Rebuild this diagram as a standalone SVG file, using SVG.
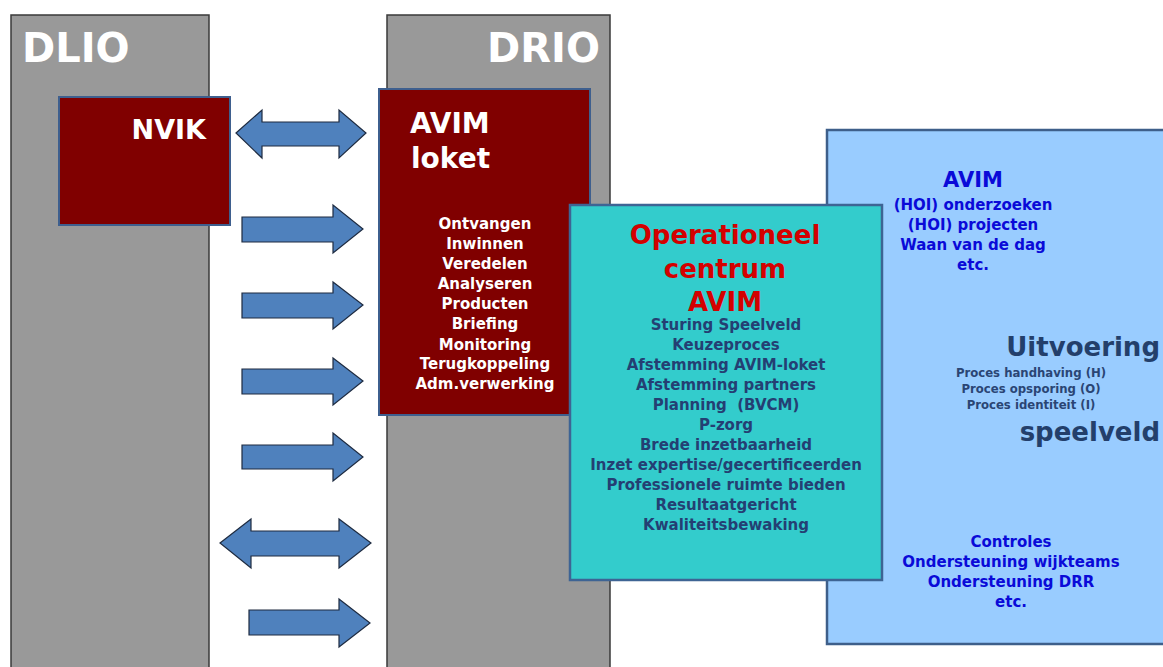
<svg xmlns="http://www.w3.org/2000/svg" width="1163" height="667" viewBox="0 0 1163 667">
<style>
text{font-family:"DejaVu Sans","Liberation Sans",sans-serif;font-weight:bold}
.panel{fill:#999999;stroke:#3a3a3a;stroke-width:1.5}
.red{fill:#800000;stroke:#3e5f8e;stroke-width:2}
.arrow{fill:#4f81bd;stroke:#1e2b40;stroke-width:1.2;stroke-linejoin:miter}
.w{fill:#ffffff}
.list{fill:#ffffff;font-size:15px;text-anchor:middle}
.op{fill:#243f73;font-size:15px;text-anchor:middle}
.bl{fill:#0a0ad8;font-size:15px;text-anchor:middle}
.proc{fill:#2a4574;font-size:11.7px;text-anchor:middle}
.big{fill:#233f6b;font-size:26px;text-anchor:end}
</style>
<rect width="1163" height="667" fill="#ffffff"/>
<g id="dlio">
<rect class="panel" x="11" y="15" width="198" height="670"/>
<text class="w" x="22" y="62" font-size="40">DLIO</text>
</g>
<g id="drio">
<rect class="panel" x="387" y="15" width="223" height="670"/>
<text class="w" x="600" y="62" font-size="40" text-anchor="end">DRIO</text>
</g>
<g id="nvik">
<rect class="red" x="59" y="97" width="171" height="128"/>
<text class="w" x="206" y="139" font-size="27" text-anchor="end">NVIK</text>
</g>
<g id="avim-loket">
<rect class="red" x="379" y="89" width="211" height="326"/>
<text class="w" x="410" y="133" font-size="28">AVIM</text>
<text class="w" x="411" y="168" font-size="28">loket</text>
<text class="list" x="485" y="229">Ontvangen</text>
<text class="list" x="485" y="249">Inwinnen</text>
<text class="list" x="485" y="269">Veredelen</text>
<text class="list" x="485" y="289">Analyseren</text>
<text class="list" x="485" y="309">Producten</text>
<text class="list" x="485" y="329">Briefing</text>
<text class="list" x="485" y="350">Monitoring</text>
<text class="list" x="485" y="369">Terugkoppeling</text>
<text class="list" x="485" y="389">Adm.verwerking</text>
</g>
<g id="uitvoering">
<rect x="827" y="130" width="345" height="514" fill="#99ccff" stroke="#3e5f8a" stroke-width="2.5"/>
<text x="973" y="187" fill="#0a0ad8" font-size="21" text-anchor="middle">AVIM</text>
<text class="bl" x="973" y="210">(HOI) onderzoeken</text>
<text class="bl" x="973" y="230">(HOI) projecten</text>
<text class="bl" x="973" y="250">Waan van de dag</text>
<text class="bl" x="973" y="270">etc.</text>
<text class="big" x="1160" y="356">Uitvoering</text>
<text class="proc" x="1031" y="377">Proces handhaving (H)</text>
<text class="proc" x="1031" y="393">Proces opsporing (O)</text>
<text class="proc" x="1031" y="409">Proces identiteit (I)</text>
<text class="big" x="1160" y="441">speelveld</text>
<text class="bl" x="1011" y="547">Controles</text>
<text class="bl" x="1011" y="567">Ondersteuning wijkteams</text>
<text class="bl" x="1011" y="587">Ondersteuning DRR</text>
<text class="bl" x="1011" y="607">etc.</text>
</g>
<g id="operationeel">
<rect x="570" y="205" width="312" height="375" fill="#33cccc" stroke="#3e6494" stroke-width="2.5"/>
<text x="725" y="244" fill="#d40000" font-size="26" text-anchor="middle">Operationeel</text>
<text x="725" y="278" fill="#d40000" font-size="26" text-anchor="middle">centrum</text>
<text x="725" y="311" fill="#d40000" font-size="26" text-anchor="middle">AVIM</text>
<text class="op" x="726" y="330">Sturing Speelveld</text>
<text class="op" x="726" y="350">Keuzeproces</text>
<text class="op" x="726" y="370">Afstemming AVIM-loket</text>
<text class="op" x="726" y="390">Afstemming partners</text>
<text class="op" x="726" y="410" xml:space="preserve">Planning  (BVCM)</text>
<text class="op" x="726" y="430">P-zorg</text>
<text class="op" x="726" y="450">Brede inzetbaarheid</text>
<text class="op" x="726" y="470">Inzet expertise/gecertificeerden</text>
<text class="op" x="726" y="490">Professionele ruimte bieden</text>
<text class="op" x="726" y="510">Resultaatgericht</text>
<text class="op" x="726" y="530">Kwaliteitsbewaking</text>
</g>
<g id="connectors">
<path class="arrow" d="M236,133 L262,110 L262,122 L339,122 L339,110 L366,133 L339,158 L339,146 L262,146 L262,158 Z"/>
<path class="arrow" d="M242,217 L333,217 L333,205 L363,229 L333,253 L333,242 L242,242 Z"/>
<path class="arrow" d="M242,293 L333,293 L333,282 L363,305 L333,329 L333,318 L242,318 Z"/>
<path class="arrow" d="M242,369 L333,369 L333,358 L363,381 L333,405 L333,394 L242,394 Z"/>
<path class="arrow" d="M242,445 L333,445 L333,433 L363,457 L333,481 L333,469 L242,469 Z"/>
<path class="arrow" d="M220,543 L251,519 L251,531 L339,531 L339,519 L371,543 L339,568 L339,556 L251,556 L251,568 Z"/>
<path class="arrow" d="M249,610 L339,610 L339,599 L370,623 L339,647 L339,635 L249,635 Z"/>
</g>
</svg>
